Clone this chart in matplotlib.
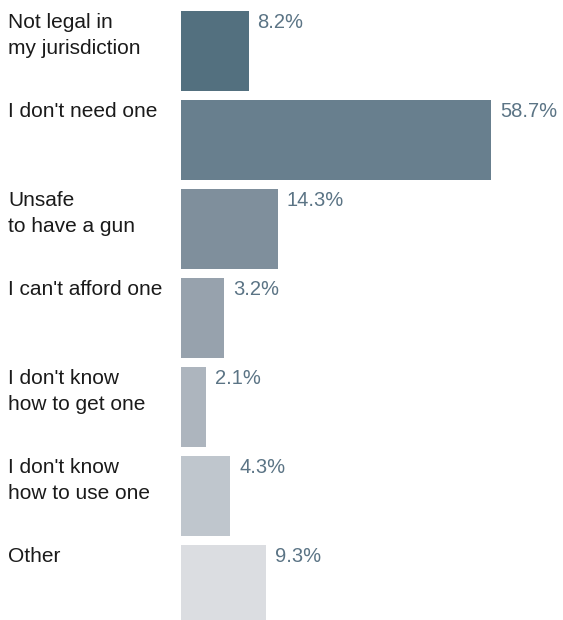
import matplotlib
matplotlib.use('Agg')
import matplotlib.pyplot as plt
import matplotlib.transforms as mtransforms

categories = ['Not legal in\nmy jurisdiction', "I don't need one", 'Unsafe\nto have a gun',
              "I can't afford one", "I don't know\nhow to get one", "I don't know\nhow to use one", 'Other']
value_labels = ['8.2%', '58.7%', '14.3%', '3.2%', '2.1%', '4.3%', '9.3%']
# drawn bar lengths (same % scale as the longest bar)
bar_lengths = [12.8, 58.7, 18.3, 8.1, 4.75, 9.3, 16.1]
colors = ['#53707f', '#687f8e', '#7f8f9c', '#97a2ad', '#adb5be', '#bfc6cd', '#dbdde1']

plt.rcParams['font.family'] = ['Liberation Sans', 'DejaVu Sans']

fig = plt.figure(figsize=(5.63, 6.2), dpi=100)
ax = fig.add_axes([0, 0, 1, 1])

px = 310 / 58.7  # pixels per percent unit
ax.set_xlim(-181 / px, (563 - 181) / px)
ax.set_ylim((620 - 51) / 89, -51 / 89)
ax.axis('off')

ypos = list(range(len(categories)))
ax.barh(ypos, bar_lengths, height=0.9, color=colors, left=0)

label_tr = mtransforms.blended_transform_factory(fig.transFigure, ax.transData)
label_tr = mtransforms.offset_copy(label_tr, fig=fig, x=0, y=-2, units='dots')
offset = mtransforms.offset_copy(ax.transData, fig=fig, x=9, y=-2, units='dots')
for i, (cat, lab, w) in enumerate(zip(categories, value_labels, bar_lengths)):
    top = i - 0.45
    ax.text(8 / 563, top, cat, transform=label_tr, ha='left', va='top',
            fontsize=15, color='#1a1a1a', linespacing=1.45)
    ax.text(w, top, lab, transform=offset, ha='left', va='top',
            fontsize=14.5, color='#5b7485')

fig.savefig('out.png', dpi=100)
